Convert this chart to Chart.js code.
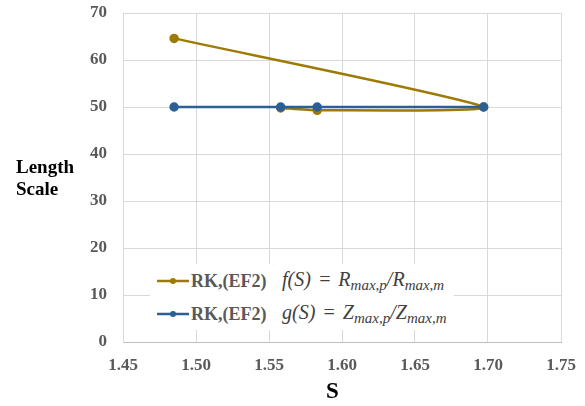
<!DOCTYPE html>
<html>
<head>
<meta charset="utf-8">
<script src="https://cdn.jsdelivr.net/npm/chart.js@4/dist/chart.umd.min.js"></script>
<style>
  html, body { margin: 0; padding: 0; background: #fff; }
  #wrap { position: relative; width: 585px; height: 406px; }
  #yTitle {
    position: absolute; left: 16px; top: 156px;
    font: bold 19px "Liberation Serif", serif; line-height: 22px; color: #000;
  }
  #xTitle {
    position: absolute; left: 326px; top: 378px;
    font: bold 23px "Liberation Serif", serif; color: #000;
  }
  #legend {
    position: absolute; left: 150px; top: 264px; width: 304px; height: 66px;
    background: #fff;
  }
  .row { position: absolute; left: 6px; height: 30px; display: flex; align-items: center; white-space: nowrap; }
  .row svg { margin-right: 1px; }
  .name { font: bold 18px "Liberation Serif", serif; color: #595959; width: 91px; }
  .fx { font: italic 20px "Liberation Serif", serif; color: #404040; word-spacing: 2px; }
  .fx sub { font-size: 15px; vertical-align: -4px; }
</style>
</head>
<body>
<div id="wrap">
  <canvas id="chart" width="585" height="406"></canvas>
  <div id="yTitle">Length<br>Scale</div>
  <div id="xTitle">S</div>
  <div id="legend"></div>
</div>
<script>
// 데이터
const seriesNames = ['RK,(EF2)', 'RK,(EF2)'];
const seriesColors = ['#9e7a05', '#2b5f95'];

// f(S) 곡선
const fS = [1.485, 1.697, 1.583, 1.558];
const fLen = [64.6, 50.0, 49.3, 49.8];

// g(S) 직선
const gS = [1.485, 1.558, 1.583, 1.697];
const gLen = [50.0, 50.0, 50.0, 50.0];

const xTicks = [1.45, 1.50, 1.55, 1.60, 1.65, 1.70, 1.75];
const yTicks = [0, 10, 20, 30, 40, 50, 60, 70];

function toPoints(xs, ys) {
    return xs.map((x, i) => ({ x: x, y: ys[i] }));
}

const tickFont = { family: '"Liberation Serif", serif', size: 17, weight: 'bold' };

// 축 여백 제거
function noPad(scale) {
    scale.paddingTop = 0;
    scale.paddingBottom = 0;
    scale.paddingLeft = 0;
    scale.paddingRight = 0;
}

const chart = new Chart(document.getElementById('chart').getContext('2d'), {
    type: 'scatter',
    data: {
        datasets: [
            {
                label: seriesNames[0],
                data: toPoints(fS, fLen),
                showLine: true,
                borderColor: seriesColors[0],
                backgroundColor: seriesColors[0],
                borderWidth: 2.5,
                pointRadius: 3.5,
                tension: 0.2,
                order: 2
            },
            {
                label: seriesNames[1],
                data: toPoints(gS, gLen),
                showLine: true,
                borderColor: seriesColors[1],
                backgroundColor: seriesColors[1],
                borderWidth: 2.5,
                pointRadius: 3.5,
                tension: 0,
                order: 1
            }
        ]
    },
    options: {
        responsive: false,
        animation: false,
        layout: { padding: { top: 13, right: 24, left: 0, bottom: 0 } },
        plugins: {
            legend: { display: false },
            tooltip: { enabled: false }
        },
        scales: {
            x: {
                type: 'linear',
                min: 1.45,
                max: 1.75,
                afterBuildTicks: (scale) => { scale.ticks = xTicks.map(v => ({ value: v })); },
                afterFit: (scale) => { scale.height = 64; noPad(scale); },
                ticks: {
                    color: '#595959',
                    font: tickFont,
                    padding: 13,
                    callback: (v) => Number(v).toFixed(2)
                },
                grid: { color: '#d9d9d9', lineWidth: 1, drawTicks: false },
                border: { color: '#bfbfbf' }
            },
            y: {
                min: 0,
                max: 70,
                afterBuildTicks: (scale) => { scale.ticks = yTicks.map(v => ({ value: v })); },
                afterFit: (scale) => { scale.width = 123; noPad(scale); },
                ticks: {
                    color: '#595959',
                    font: tickFont,
                    padding: 16
                },
                grid: { color: '#d9d9d9', lineWidth: 1, drawTicks: false },
                border: { color: '#d9d9d9' }
            }
        }
    },
    plugins: [{
        id: 'frame',
        afterDraw(c) {
            const a = c.chartArea, ctx = c.ctx;
            ctx.save();
            ctx.strokeStyle = '#d9d9d9';
            ctx.lineWidth = 1;
            ctx.beginPath();
            ctx.moveTo(a.left, a.top + 0.5);
            ctx.lineTo(a.right, a.top + 0.5);
            ctx.stroke();
            ctx.restore();
        }
    }]
});

// 범례 만들기
const formulas = [
    'f(S) = R<sub>max,p</sub>/R<sub>max,m</sub>',
    'g(S) = Z<sub>max,p</sub>/Z<sub>max,m</sub>'
];
const legend = document.getElementById('legend');
seriesNames.forEach((name, i) => {
    const row = document.createElement('div');
    row.className = 'row';
    row.style.top = (2 + i * 33) + 'px';
    row.innerHTML =
        `<svg width="34" height="10"><line x1="1" y1="5" x2="33" y2="5" stroke="${seriesColors[i]}" stroke-width="2.5"/>` +
        `<circle cx="17" cy="5" r="3" fill="${seriesColors[i]}"/></svg>` +
        `<span class="name">${name}</span><span class="fx">${formulas[i]}</span>`;
    legend.appendChild(row);
});
</script>
</body>
</html>
